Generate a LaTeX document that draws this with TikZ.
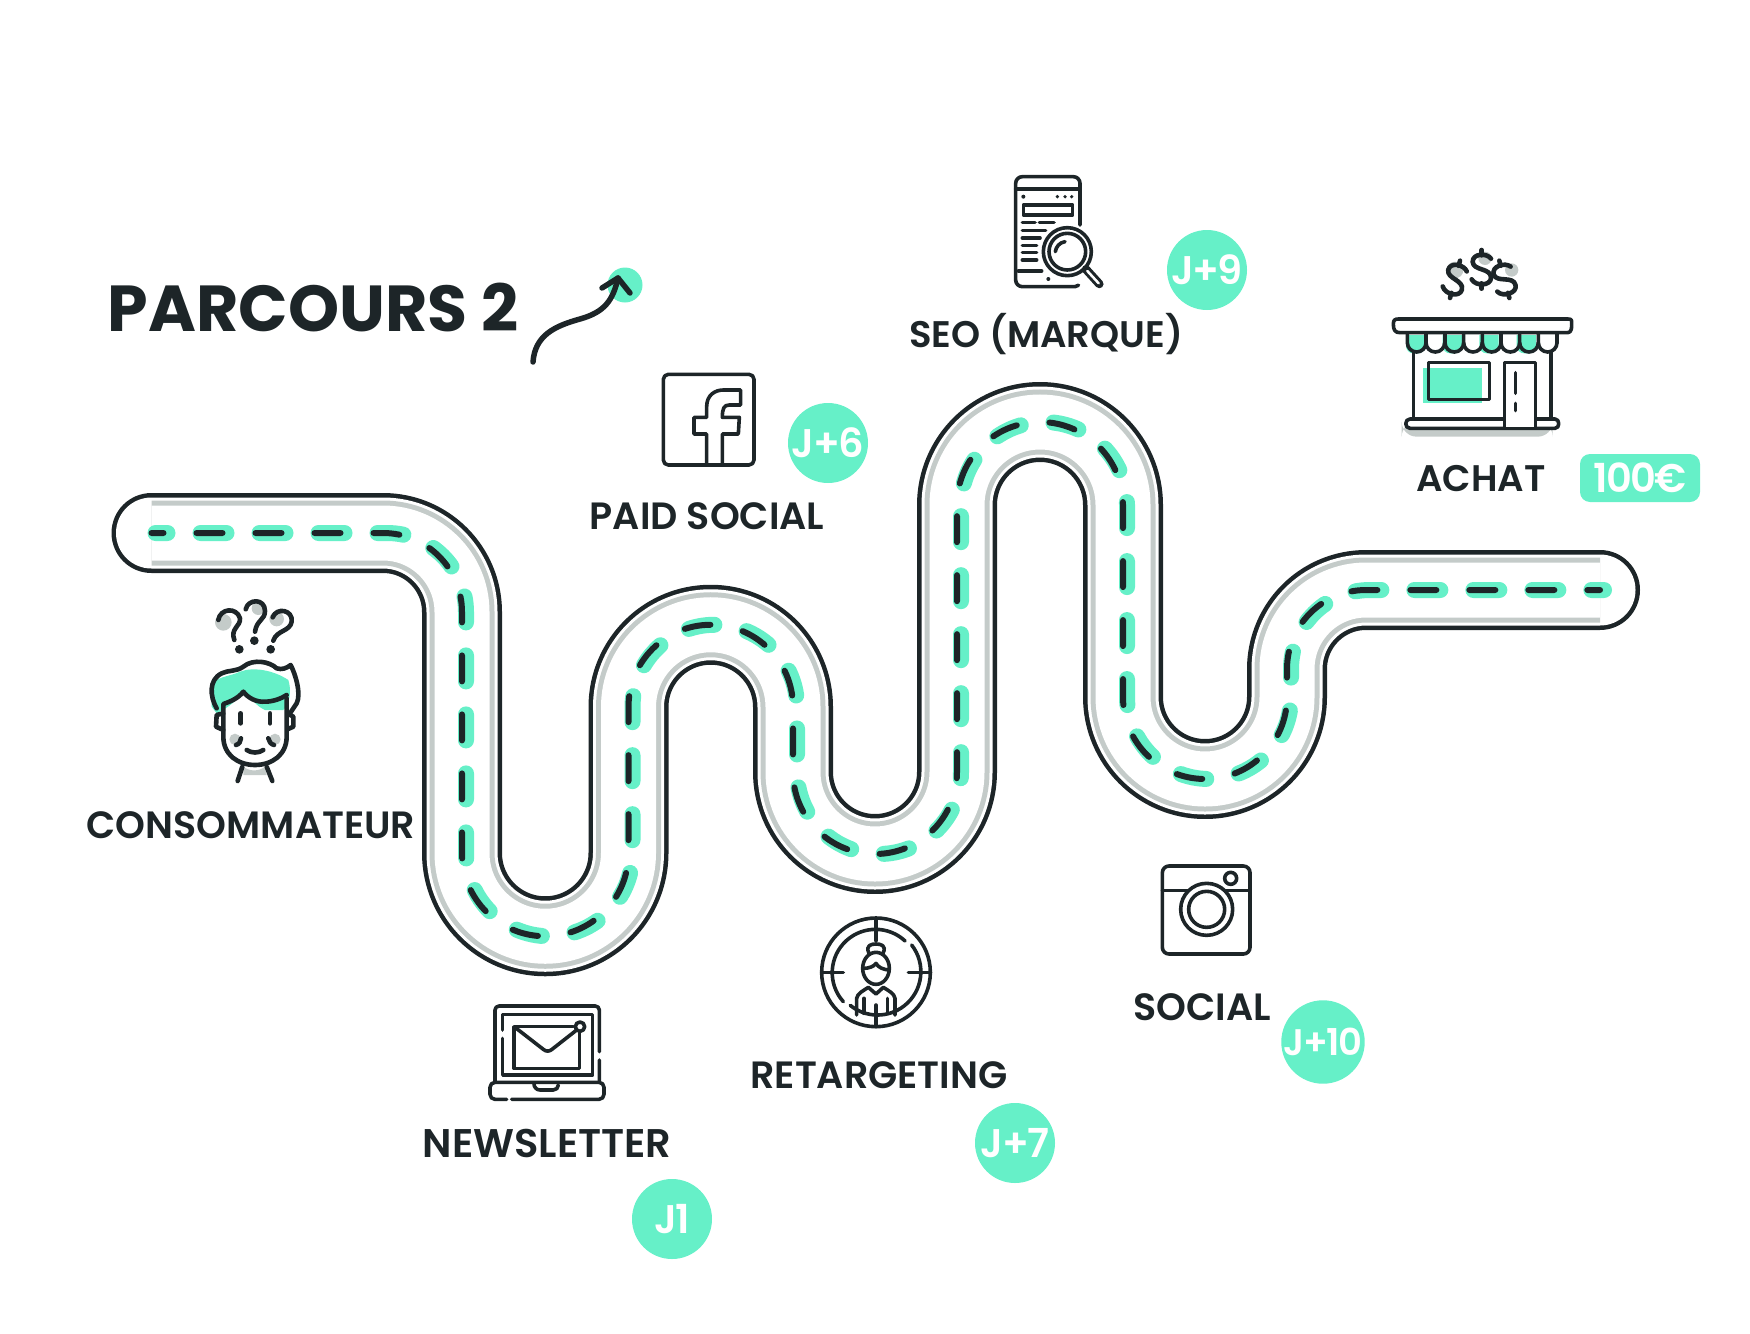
\documentclass[tikz,border=0pt]{standalone}
\usepackage{fontspec}
\setmainfont{Poppins}
\newfontfamily\labfont{Poppins SemiBold}
\newfontfamily\titfont{Poppins}[BoldFont={Poppins Bold}]
\newfontfamily\medfont{Poppins SemiBold}[LetterSpace=-4]
\usetikzlibrary{calc}
\definecolor{mint}{HTML}{66F0C8}
\definecolor{ink}{HTML}{1D2528}
\definecolor{asph}{HTML}{C4CBC9}
\tikzset{
  lab/.style={text=ink,inner sep=0pt,font=\labfont\fontsize{38}{44}\selectfont},
  badge/.style={circle,fill=mint,minimum size=80pt,inner sep=0pt,text=white,font=\medfont\fontsize{40}{46}\selectfont},
  ic/.style={draw=ink,line width=3.6pt,line cap=round,line join=round},
  ict/.style={draw=ink,line width=4.6pt,line cap=round,line join=round},
}
\def\roadpath{(151.5,533) -- (383,533) arc (-90:0:79) -- (462,853) arc (180:0:83.25) -- (628.5,707) arc (180:360:82.25) -- (793,772) arc (180:0:82) -- (957,505) arc (180:360:83) -- (1123,697) arc (180:0:82) -- (1287,669) arc (180:270:79) -- (1600,590)}
\begin{document}
\begin{tikzpicture}[x=1pt,y=-1pt]
\useasboundingbox (0,0) rectangle (1750,1333);
% road
\draw[ink,line width=80pt,line cap=round,line join=round] \roadpath;
\draw[white,line width=71pt,line cap=round,line join=round] \roadpath;
\draw[asph,line width=65pt] \roadpath;
\draw[white,line width=55pt] \roadpath;
\draw[mint,line width=16pt,line cap=round,dash pattern=on 26pt off 33pt,dash phase=14pt,xshift=4pt] \roadpath;
\draw[ink,line width=6pt,line cap=round,dash pattern=on 26pt off 33pt,dash phase=14pt] \roadpath;
% title
\node[inner sep=0pt,text=ink] (title) at (313,307) {\titfont\bfseries\fontsize{65}{70}\selectfont PARCOURS 2};
\node[circle,fill=mint,minimum size=35pt,inner sep=0pt] (dot) at (625,285) {};
\coordinate (arrS) at (533,362);
\coordinate (arrE) at (618,278);
\draw[ink,line width=5.5pt,line cap=round,line join=round] (arrS) .. controls (535,335) and (555,326) .. (580,319) .. controls (605,312) and (613,300) .. (arrE);
\draw[ink,line width=5.5pt,line cap=round,line join=round] (602,288) -- (arrE) -- (630,293);
% labels
\node[lab] (cons) at (251,825) {CONSOMMATEUR};
\node[lab] (paid) at (707,516) {PAID SOCIAL};
\node[lab,font=\labfont\fontsize{37}{44}\selectfont] (seo) at (1046,334) {SEO (MARQUE)};
\node[lab,font=\labfont\fontsize{37}{44}\selectfont] (achat) at (1481,479) {ACHAT};
\node[lab,font=\labfont\fontsize{40}{44}\selectfont] (news) at (547,1143) {NEWSLETTER};
\node[lab] (ret) at (879,1075) {RETARGETING};
\node[lab] (soc) at (1202,1007) {SOCIAL};
% badges
\node[badge] (j1) at (672,1219) {J1};
\node[badge] (j6) at (828,443) {J+6};
\node[badge] (j7) at (1015,1143) {J+7};
\node[badge] (j9) at (1207,270) {J+9};
\node[badge,font=\medfont\fontsize{37}{40}\selectfont] (j10) at (1323,1042) {J+10};
\node[fill=mint,rounded corners=10pt,minimum width=120pt,minimum height=48pt,inner sep=0pt,text=white,font=\medfont\fontsize{40}{44}\selectfont] (prix) at (1640,478) {100€};
% consumer icon
\begin{scope}[shift={(80,450)},scale=1/3]
\fill[asph] (430,517) circle (25) (535,475) circle (20) (590,507) circle (22) (465,868) circle (17) (585,868) circle (17);
\fill[asph] (490,950) .. controls (510,965) and (535,965) .. (555,950) -- (560,975) -- (490,975) -- cycle;
\fill[mint] (395,710) .. controls (400,680) and (450,680) .. (480,665) .. controls (520,650) and (580,660) .. (625,690) .. controls (635,720) and (630,760) .. (610,780) -- (555,780) .. controls (530,770) and (510,740) .. (490,728) .. controls (470,750) and (450,770) .. (410,790) -- (395,770) -- cycle;
\draw[ict] (415,510) .. controls (420,475) and (470,470) .. (480,505) .. controls (482,530) and (450,535) .. (463,570);
\draw[ict] (497,478) .. controls (505,445) and (555,445) .. (555,483) .. controls (555,510) and (530,510) .. (525,545);
\draw[ict] (578,502) .. controls (590,470) and (640,480) .. (635,515) .. controls (630,545) and (590,540) .. (580,572);
\fill[ink] (478,598) circle (13) (523,572) circle (13) (572,598) circle (13);
\draw[ict] (430,790) -- (430,860) .. controls (430,915) and (475,945) .. (525,945) .. controls (575,945) and (620,915) .. (620,860) -- (620,745);
\draw[ict] (430,785) -- (430,762) .. controls (450,755) and (475,745) .. (490,725) .. controls (505,745) and (530,757) .. (555,755) .. controls (580,755) and (605,745) .. (620,735);
\draw[ict] (410,775) .. controls (390,740) and (385,690) .. (425,670) .. controls (445,660) and (470,665) .. (490,650) .. controls (520,625) and (570,635) .. (590,655) .. controls (605,660) and (620,655) .. (632,645) .. controls (645,670) and (665,730) .. (650,760) -- (630,790);
\draw[ict] (430,790) -- (410,795) -- (408,830) -- (430,840);
\draw[ict] (622,790) -- (640,800) -- (640,830) -- (622,838);
\draw[ict] (482,790) -- (482,820) (570,790) -- (570,820);
\draw[ict] (483,865) .. controls (482,875) and (478,882) .. (468,885) (565,865) .. controls (567,875) and (572,882) .. (582,885);
\draw[ict] (500,900) .. controls (515,910) and (535,910) .. (550,900);
\draw[ict] (487,950) -- (473,993) (560,950) -- (577,993);
\end{scope}
% seo icon
\begin{scope}[shift={(980,150)},scale=1/3]
\draw[ic] (300,225) -- (300,100) arc (0:-90:20) -- (127,80) arc (-90:-180:20) -- (107,390) arc (180:90:20) -- (285,410) arc (90:45:15);
\draw[ic] (107,117) -- (300,117);
\fill[ink] (130,140) circle (6) (232,140) circle (5.5) (255,140) circle (5.5) (275,140) circle (5.5) (205,387) circle (6);
\draw[ic] (130,165) rectangle (278,195);
\draw[ic] (127,217) -- (165,217) (178,217) -- (222,217) (127,241) -- (197,241) (127,264) -- (180,264) (127,286) -- (170,286) (127,308) -- (170,308) (127,330) -- (170,330) (115,363) -- (185,363);
\draw[ic,fill=white] (262,305) circle (72);
\draw[ic] (262,305) circle (55);
\draw[ic] (226,305) .. controls (228,290) and (238,278) .. (255,275);
\draw[ink,line width=8.5pt,line cap=round] (318,358) -- (358,402);
\draw[white,line width=2.5pt,line cap=round] (322,363) -- (356,400);
\end{scope}
% store icon
\begin{scope}[shift={(1370,220)},scale=1/3]
\fill[asph] (255,150) circle (25) (345,115) circle (20) (425,150) circle (20);
\foreach \cx/\cy/\ang in {255/178/-15,335/148/0,403/178/15}{
  \begin{scope}[shift={(\cx,\cy)},rotate=\ang]
  \draw[ict] (28,-32) .. controls (15,-50) and (-28,-48) .. (-27,-22) .. controls (-25,5) and (28,-5) .. (28,25) .. controls (28,50) and (-18,52) .. (-30,30);
  \draw[ict] (0,-42) -- (0,-58) (0,42) -- (0,58);
  \end{scope}
}
\fill[asph,rounded corners=15pt] (95,605) rectangle (548,650);
\fill[mint] (158,445) rectangle (335,550);
\foreach \x in {108,218,328,440}{
  \fill[mint] (\x,345) -- (\x+58,345) -- (\x+58,378) arc (0:90:22) -- (\x+22,400) arc (90:180:22) -- cycle;
}
\draw[ic] (130,395) -- (130,600) (543,395) -- (543,600);
\draw[ic] (175,428) rectangle (358,538);
\foreach \x in {112,168,225,281,337,393,449,505}{
  \draw[ic] (\x,340) -- (\x,368) arc (180:0:28);
  \draw[ic] (\x+56,340) -- (\x+56,368);
}
\draw[ic,fill=white] (85,297) -- (590,297) .. controls (605,297) and (605,297) .. (605,312) .. controls (605,338) and (600,338) .. (585,338) -- (90,338) .. controls (75,338) and (70,330) .. (70,312) .. controls (70,300) and (75,297) .. (85,297) -- cycle;
\draw[ic,fill=white] (120,597) -- (555,597) .. controls (570,597) and (570,625) .. (555,625) -- (120,625) .. controls (103,625) and (103,597) .. (120,597) -- cycle;
\draw[ic,fill=white] (403,620) -- (403,428) -- (497,428) -- (497,620);
\draw[ic] (436,458) -- (436,520) (436,550) -- (436,572);
\end{scope}
% facebook icon
\begin{scope}[shift={(640,360)},scale=1/3]
\draw[ic] (85,43) -- (327,43) arc (-90:0:15) -- (342,300) arc (0:90:15) -- (85,315) arc (90:180:15) -- (70,58) arc (180:270:15) -- cycle;
\draw[ic] (200,315) -- (200,222) -- (162,222) -- (162,172) -- (200,172) -- (200,140) .. controls (200,105) and (225,90) .. (250,90) -- (302,90) -- (302,135) -- (268,135) .. controls (252,135) and (247,145) .. (247,172) -- (298,172) -- (295,222) -- (247,222) -- (247,315);
\end{scope}
% instagram icon
\begin{scope}[shift={(1140,850)},scale=1/3]
\draw[ic] (87,48) -- (310,48) arc (-90:0:20) -- (330,292) arc (0:90:20) -- (87,312) arc (90:180:20) -- (67,68) arc (180:270:20) -- cycle;
\draw[ic] (67,122) -- (145,122) (257,122) -- (330,122);
\draw[ic] (200,178) circle (78) (200,178) circle (54) (272,85) circle (18);
\end{scope}
% newsletter icon
\begin{scope}[shift={(460,980)},scale=1/3]
\draw[ic] (105,305) -- (105,90) arc (180:270:12) -- (406,78) arc (270:360:12) -- (418,215) (418,240) -- (418,305);
\draw[ic] (128,175) -- (128,285) -- (398,285) -- (398,103) -- (128,103) -- (128,150);
\draw[ic] (340,140) -- (162,140) -- (162,265) -- (358,265) -- (358,158);
\draw[ic] (165,142) -- (250,208) .. controls (258,215) and (268,215) .. (276,208) -- (350,150);
\draw[ic] (360,140) circle (14);
\draw[ic] (140,358) -- (105,358) arc (90:180:15) -- (90,322) arc (180:270:15) -- (417,307) arc (270:360:15) -- (432,343) arc (0:90:15) -- (155,358);
\draw[ic] (222,312) arc (180:90:18) -- (280,330) arc (90:0:15);
\end{scope}
% retargeting icon
\begin{scope}[shift={(800,900)},scale=1/3]
\draw[ic] (228,217) circle (163);
\draw[ic] (335,135) arc (-38:129:130);
\draw[ic] (130,305) arc (138:313:130);
\draw[ic] (228,55) -- (228,122) (228,315) -- (228,380) (65,217) -- (130,217) (325,217) -- (392,217);
\draw[ic] (228,205) ellipse (40 and 48);
\draw[ic] (207,160) .. controls (195,135) and (215,132) .. (228,132) .. controls (241,132) and (261,135) .. (249,160);
\draw[ic] (192,205) .. controls (205,205) and (222,200) .. (228,190) .. controls (235,203) and (250,208) .. (265,210);
\draw[ic] (170,345) -- (170,295) .. controls (172,280) and (190,272) .. (205,262) -- (228,282) -- (250,262) .. controls (265,272) and (283,280) .. (285,295) -- (285,345);
\draw[ic] (192,295) -- (192,340) (262,295) -- (262,340);
\end{scope}
\end{tikzpicture}
\end{document}
